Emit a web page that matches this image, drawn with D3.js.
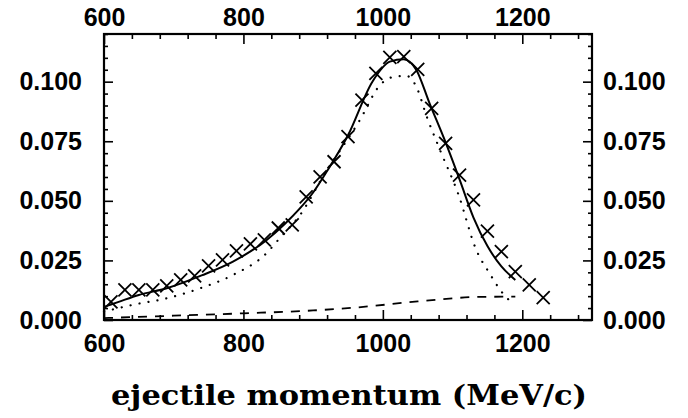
<!DOCTYPE html>
<html>
<head>
<meta charset="utf-8">
<script src="https://cdn.jsdelivr.net/npm/d3@7"></script>
<style>
  body { margin: 0; background: #fff; }
  svg { display: block; }
</style>
</head>
<body>
<div id="chart"></div>
<script>
// measured spectrum (crosses)
const dataP = [610, 630, 650, 670, 690, 710, 730, 750, 770, 790, 810, 830, 850, 870,
  890, 910, 930, 950, 970, 990, 1010, 1030, 1050, 1070, 1090, 1110, 1130, 1150,
  1170, 1190, 1210, 1230];
const dataV = [0.0076, 0.0126, 0.0126, 0.0126, 0.0143, 0.0168, 0.0185, 0.0227, 0.0252,
  0.0290, 0.0319, 0.0336, 0.0386, 0.0399, 0.0517, 0.0601, 0.0664, 0.0769, 0.0923,
  0.1035, 0.1102, 0.1105, 0.1052, 0.0888, 0.0741, 0.0608, 0.0504, 0.0373, 0.0287,
  0.0203, 0.0147, 0.0094];

// full calculation (solid)
const totalP = [600, 620, 650, 690, 740, 785, 833, 860, 880, 900, 920, 950, 985, 1010, 1030,
  1048, 1067, 1090, 1110, 1130, 1150, 1170, 1190];
const totalV = [0.0055, 0.0075, 0.0105, 0.0133, 0.0187, 0.0245, 0.0335, 0.0405, 0.0465,
  0.0535, 0.0625, 0.0775, 0.1000, 0.1084, 0.1094, 0.1049, 0.0909, 0.0745, 0.0590, 0.0430,
  0.0310, 0.0225, 0.0168];

// first contribution (dotted)
const dotP = [600, 640, 690, 740, 785, 833, 852, 883, 914, 967, 996, 1017, 1034, 1048,
  1063, 1082, 1108, 1134, 1153, 1172, 1189];
const dotV = [0.0035, 0.0063, 0.0091, 0.0135, 0.0189, 0.0280, 0.0343, 0.0448, 0.0601,
  0.0839, 0.0986, 0.1021, 0.1024, 0.0979, 0.0853, 0.0713, 0.0530, 0.0294, 0.0196,
  0.0112, 0.0063];

// second contribution (dashed)
const dashP = [600, 700, 800, 900, 960, 1050, 1140, 1190];
const dashV = [0.0008, 0.0018, 0.0028, 0.0040, 0.0052, 0.0078, 0.0097, 0.0098];

const xMajor = [600, 800, 1000, 1200];
const yMajor = [0, 0.025, 0.05, 0.075, 0.1];

const width = 688,
  height = 418,
  mLeft = 104, mRight = 592, mTop = 34, mBottom = 320;

const x = d3.scaleLinear().domain([600, 1300]).range([mLeft, mRight]);
const y = d3.scaleLinear().domain([0, 0.12]).range([mBottom, mTop]);

const xMinor = d3.range(600, 1301, 40).filter(v => xMajor.indexOf(v) < 0);
const yMinor = d3.range(0, 0.1201, 0.005).filter(v => !yMajor.some(m => Math.abs(m - v) < 1e-9));

const svg = d3.select('#chart').append('svg')
  .attr('width', width)
  .attr('height', height);

svg.append('rect').attr('width', width).attr('height', height).attr('fill', '#fff');

const tickFont = '"Liberation Sans", Arial, sans-serif';

function styleAxis(g) {
  g.select('.domain').remove();
  g.selectAll('line').attr('stroke', '#000').attr('stroke-width', 1.6);
  g.selectAll('text')
    .attr('fill', '#000')
    .style('font-family', tickFont)
    .style('font-weight', 'bold')
    .style('font-size', '25px');
}

// major ticks with labels, inward
svg.append('g').attr('transform', `translate(0,${mBottom})`)
  .call(d3.axisBottom(x).tickValues(xMajor).tickSize(-10).tickPadding(14).tickFormat(d3.format('d')))
  .call(styleAxis);
svg.append('g').attr('transform', `translate(0,${mTop})`)
  .call(d3.axisTop(x).tickValues(xMajor).tickSize(-10).tickPadding(8).tickFormat(d3.format('d')))
  .call(styleAxis);
svg.append('g').attr('transform', `translate(${mLeft},0)`)
  .call(d3.axisLeft(y).tickValues(yMajor).tickSize(-9).tickPadding(22).tickFormat(d3.format('.3f')))
  .call(styleAxis);
svg.append('g').attr('transform', `translate(${mRight},0)`)
  .call(d3.axisRight(y).tickValues(yMajor).tickSize(-9).tickPadding(11).tickFormat(d3.format('.3f')))
  .call(styleAxis);

// minor ticks
svg.append('g').attr('transform', `translate(0,${mBottom})`)
  .call(d3.axisBottom(x).tickValues(xMinor).tickSize(-5).tickFormat(''))
  .call(styleAxis);
svg.append('g').attr('transform', `translate(0,${mTop})`)
  .call(d3.axisTop(x).tickValues(xMinor).tickSize(-5).tickFormat(''))
  .call(styleAxis);
svg.append('g').attr('transform', `translate(${mLeft},0)`)
  .call(d3.axisLeft(y).tickValues(yMinor).tickSize(-4).tickFormat(''))
  .call(styleAxis);
svg.append('g').attr('transform', `translate(${mRight},0)`)
  .call(d3.axisRight(y).tickValues(yMinor).tickSize(-4).tickFormat(''))
  .call(styleAxis);

// frame
svg.append('rect')
  .attr('x', mLeft).attr('y', mTop)
  .attr('width', mRight - mLeft).attr('height', mBottom - mTop)
  .attr('fill', 'none').attr('stroke', '#000').attr('stroke-width', 2.2);

const line = d3.line()
  .x(d => x(d[0]))
  .y(d => y(d[1]))
  .curve(d3.curveMonotoneX);

const zip = (a, b) => a.map((v, i) => [v, b[i]]);

svg.append('path')
  .datum(zip(dashP, dashV))
  .attr('d', line)
  .attr('fill', 'none').attr('stroke', '#000').attr('stroke-width', 1.8)
  .attr('stroke-dasharray', '9,8');

svg.append('path')
  .datum(zip(dotP, dotV))
  .attr('d', line)
  .attr('fill', 'none').attr('stroke', '#000').attr('stroke-width', 2.2)
  .attr('stroke-linecap', 'round')
  .attr('stroke-dasharray', '0.1,9');

svg.append('path')
  .datum(zip(totalP, totalV))
  .attr('d', line)
  .attr('fill', 'none').attr('stroke', '#000').attr('stroke-width', 2);

// crosses
const s = 6.5;
svg.append('g').selectAll('path')
  .data(zip(dataP, dataV))
  .enter().append('path')
  .attr('transform', d => `translate(${x(d[0])},${y(d[1])})`)
  .attr('d', `M${-s},${-s}L${s},${s}M${-s},${s}L${s},${-s}`)
  .attr('fill', 'none').attr('stroke', '#000').attr('stroke-width', 1.8);

// axis title
svg.append('text')
  .attr('x', 349)
  .attr('y', 405)
  .attr('text-anchor', 'middle')
  .attr('textLength', 476)
  .attr('lengthAdjust', 'spacingAndGlyphs')
  .style('font-family', '"DejaVu Serif", "Liberation Serif", serif')
  .style('font-weight', 'bold')
  .style('font-size', '27px')
  .text('ejectile momentum (MeV/c)');
</script>
</body>
</html>
